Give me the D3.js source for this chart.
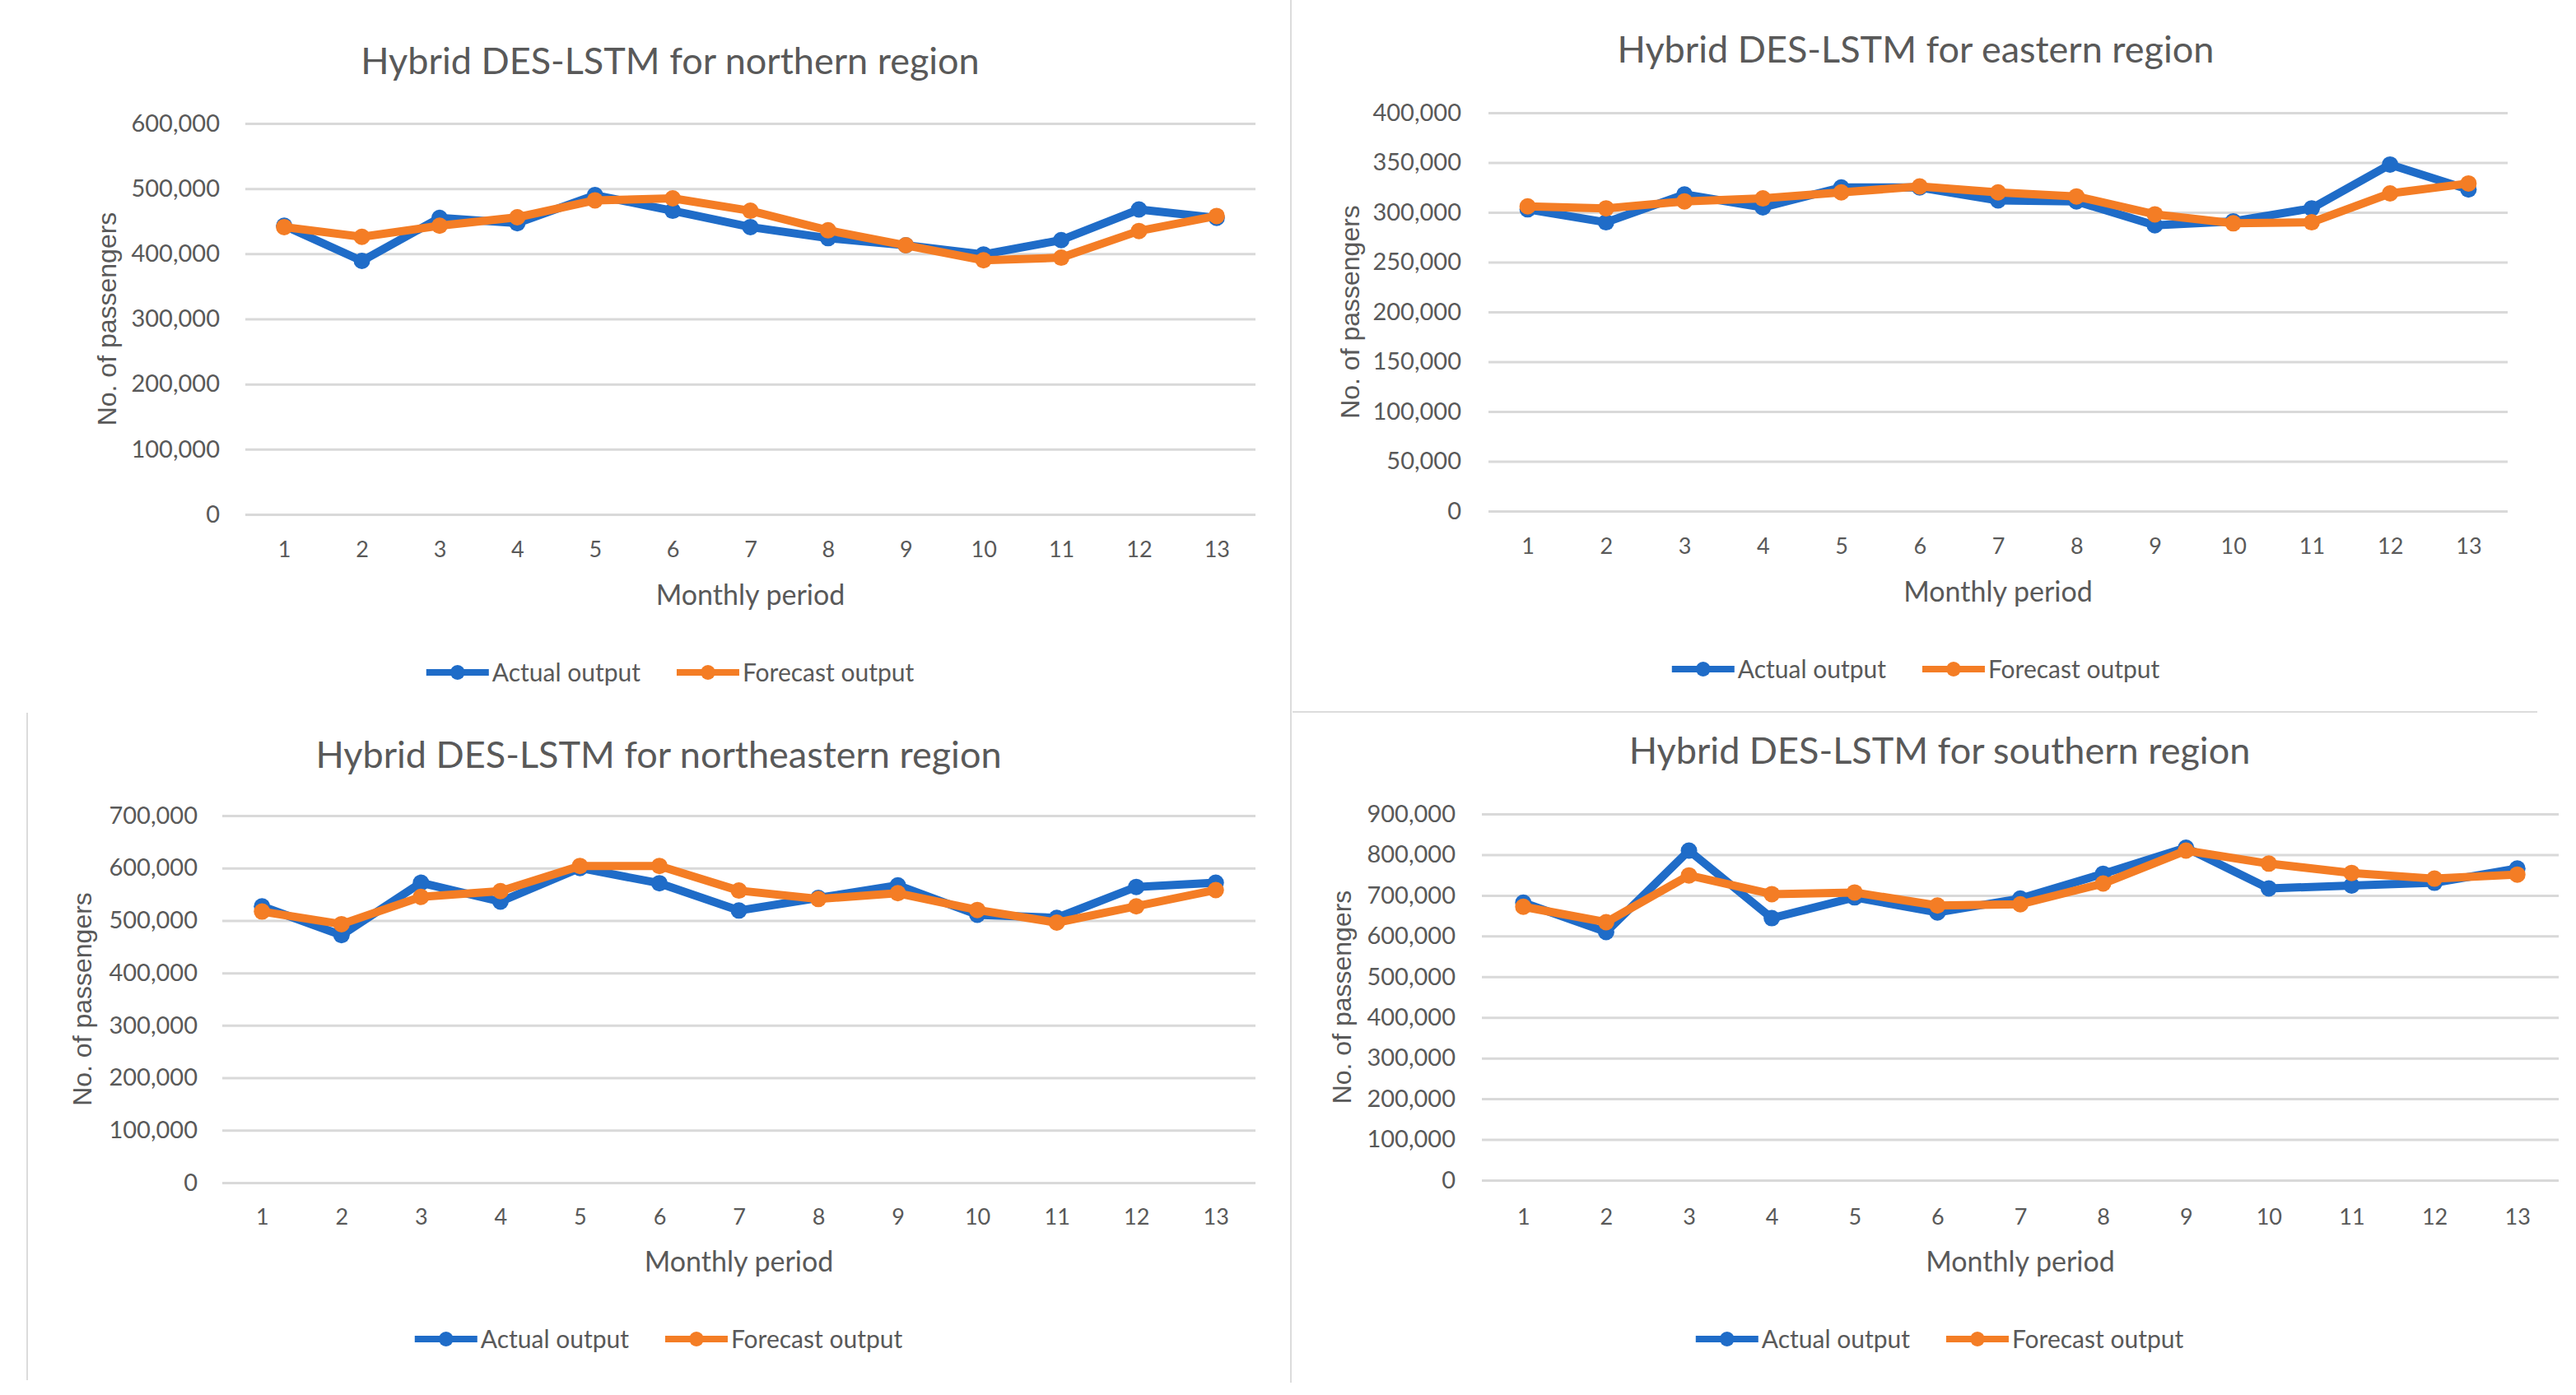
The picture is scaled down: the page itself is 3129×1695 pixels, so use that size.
<!DOCTYPE html>
<html>
<head>
<meta charset="utf-8">
<script src="https://cdn.jsdelivr.net/npm/d3@7"></script>
<style>
  body { margin: 0; background: #fff; }
  svg text { fill: #595959; font-family: Lato, "Open Sans", sans-serif; }
</style>
</head>
<body>
<svg id="chart" width="3129" height="1695"></svg>
<script>
// monthly periods 1..13
var periods = [1, 2, 3, 4, 5, 6, 7, 8, 9, 10, 11, 12, 13];
var seriesNames = ["Actual output", "Forecast output"];

var northernActual   = [443000, 389000, 455000, 447000, 490000, 466000, 441000, 424000, 413000, 399000, 421000, 468000, 455000];
var northernForecast = [441000, 426000, 443000, 456000, 482000, 485000, 466000, 436000, 413000, 390000, 394000, 435000, 458000];

var easternActual    = [303000, 290000, 318000, 305000, 325000, 325000, 312000, 311000, 287000, 291000, 304000, 348000, 323000];
var easternForecast  = [306000, 304000, 311000, 314000, 320000, 326000, 320000, 316000, 298000, 289000, 290000, 319000, 329000];

var northeastActual   = [527000, 472000, 572000, 536000, 600000, 571000, 519000, 543000, 567000, 511000, 505000, 564000, 572000];
var northeastForecast = [517000, 493000, 545000, 556000, 604000, 604000, 557000, 541000, 552000, 520000, 496000, 527000, 558000];

var southernActual   = [682000, 610000, 810000, 644000, 695000, 658000, 692000, 753000, 817000, 717000, 724000, 731000, 766000];
var southernForecast = [672000, 634000, 749000, 703000, 707000, 675000, 678000, 729000, 810000, 778000, 755000, 741000, 751000];

var northernTicks  = [0, 100000, 200000, 300000, 400000, 500000, 600000];
var easternTicks   = [0, 50000, 100000, 150000, 200000, 250000, 300000, 350000, 400000];
var northeastTicks = [0, 100000, 200000, 300000, 400000, 500000, 600000, 700000];
var southernTicks  = [0, 100000, 200000, 300000, 400000, 500000, 600000, 700000, 800000, 900000];

var color = d3.scaleOrdinal().domain(seriesNames).range(["#1f6cc8", "#f47d25"]);
var fmt = d3.format(",");

var svg = d3.select("#chart");

// panel frame lines left over from the screenshot
svg.append("line").attr("x1", 1568).attr("x2", 1568).attr("y1", 0).attr("y2", 1680)
    .style("stroke", "#dcdcdc").style("stroke-width", 2);
svg.append("line").attr("x1", 1570).attr("x2", 3082).attr("y1", 865).attr("y2", 865)
    .style("stroke", "#dcdcdc").style("stroke-width", 2);
svg.append("line").attr("x1", 33).attr("x2", 33).attr("y1", 866).attr("y2", 1677)
    .style("stroke", "#dcdcdc").style("stroke-width", 2);

function drawPanel(p) {
    var g = svg.append("g");

    var x = d3.scalePoint().domain(periods).range([p.left, p.right]).padding(0.5);
    var y = d3.scaleLinear().domain([0, d3.max(p.ticks)]).range([p.bottom, p.top]);

    // title
    g.append("text")
        .attr("x", p.titleX)
        .attr("y", p.titleY)
        .style("text-anchor", "middle")
        .style("font-size", "45px")
        .text(p.title);

    // y axis with gridlines
    var yAxis = d3.axisLeft(y)
        .tickValues(p.ticks)
        .tickFormat(fmt)
        .tickSize(-(p.right - p.left))
        .tickPadding(p.left - p.tickRight);

    var ya = g.append("g")
        .attr("transform", "translate(" + p.left + ",0)")
        .call(yAxis);
    ya.select(".domain").remove();
    ya.selectAll("line").style("stroke", "#d9d9d9").style("stroke-width", 3);
    ya.selectAll("text").style("font-size", "29px").attr("fill", "#595959");

    // x axis labels
    var xAxis = d3.axisBottom(x).tickSize(0).tickPadding(p.xLabBase - p.bottom - 20);
    var xa = g.append("g")
        .attr("transform", "translate(0," + p.bottom + ")")
        .call(xAxis);
    xa.select(".domain").remove();
    xa.selectAll("text").style("font-size", "27px").attr("fill", "#595959");

    // axis titles
    g.append("text")
        .attr("x", (p.left + p.right) / 2)
        .attr("y", p.mpBase)
        .style("text-anchor", "middle")
        .style("font-size", "34px")
        .text("Monthly period");

    g.append("text")
        .attr("transform", "translate(" + p.ylabX + "," + ((p.top + p.bottom) / 2) + ") rotate(-90)")
        .attr("dy", "0.35em")
        .style("text-anchor", "middle")
        .style("font-size", "32px")
        .style("font-family", "'Liberation Sans', Arial, sans-serif")
        .text("No. of passengers");

    // lines + markers
    var line = d3.line()
        .x(function (d, i) { return x(periods[i]); })
        .y(function (d) { return y(d); });

    p.series.forEach(function (vals, k) {
        var c = color(seriesNames[k]);
        g.append("path")
            .datum(vals)
            .attr("d", line)
            .style("fill", "none")
            .style("stroke", c)
            .style("stroke-width", 10)
            .style("stroke-linejoin", "round");
        g.selectAll(".m" + k)
            .data(vals)
            .enter().append("circle")
            .attr("class", "m" + k)
            .attr("cx", function (d, i) { return x(periods[i]); })
            .attr("cy", function (d) { return y(d); })
            .attr("r", 10)
            .style("fill", c);
    });

    // legend
    var leg = g.append("g");
    var pos = 0;
    seriesNames.forEach(function (name, k) {
        var it = leg.append("g").attr("transform", "translate(" + pos + ",0)");
        it.append("line").attr("x1", 0).attr("x2", 76).attr("y1", 0).attr("y2", 0)
            .style("stroke", color(name)).style("stroke-width", 8);
        it.append("circle").attr("cx", 38).attr("cy", 0).attr("r", 9).style("fill", color(name));
        var t = it.append("text").attr("x", 80).attr("dy", "0.35em")
            .style("font-size", "30px").text(name);
        pos += 80 + t.node().getComputedTextLength() + 44;
    });
    var legW = pos - 44;
    leg.attr("transform", "translate(" + (p.titleX - legW / 2) + "," + p.legendY + ")");
}

drawPanel({
    title: "Hybrid DES-LSTM for northern region",
    series: [northernActual, northernForecast], ticks: northernTicks,
    left: 298, right: 1525, top: 150, bottom: 625,
    titleX: 814, titleY: 90, ylabX: 130, tickRight: 267,
    xLabBase: 678, mpBase: 735, legendY: 817
});
drawPanel({
    title: "Hybrid DES-LSTM for eastern region",
    series: [easternActual, easternForecast], ticks: easternTicks,
    left: 1808, right: 3046, top: 137, bottom: 621,
    titleX: 2327, titleY: 76, ylabX: 1640, tickRight: 1775,
    xLabBase: 674, mpBase: 731, legendY: 813
});
drawPanel({
    title: "Hybrid DES-LSTM for northeastern region",
    series: [northeastActual, northeastForecast], ticks: northeastTicks,
    left: 270, right: 1525, top: 991, bottom: 1437,
    titleX: 800, titleY: 933, ylabX: 100, tickRight: 240,
    xLabBase: 1489, mpBase: 1545, legendY: 1627
});
drawPanel({
    title: "Hybrid DES-LSTM for southern region",
    series: [southernActual, southernForecast], ticks: southernTicks,
    left: 1800, right: 3108, top: 989, bottom: 1434,
    titleX: 2356, titleY: 928, ylabX: 1630, tickRight: 1768,
    xLabBase: 1489, mpBase: 1545, legendY: 1627
});
</script>
</body>
</html>
